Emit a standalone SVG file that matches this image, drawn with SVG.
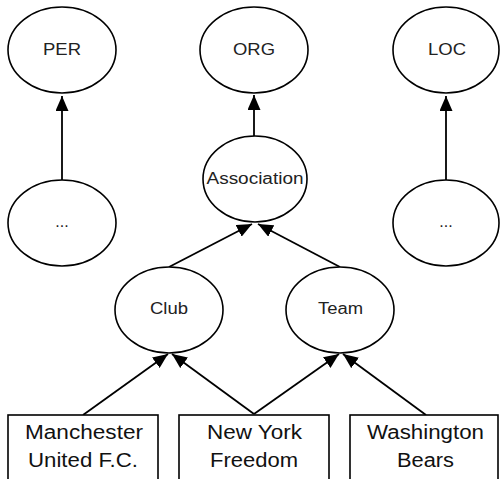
<svg xmlns="http://www.w3.org/2000/svg" width="500" height="479" viewBox="0 0 500 479">
<style>
.n{fill:#fff;stroke:#000;stroke-width:1.6}
.e{stroke:#000;stroke-width:1.8;fill:none}
.t{font-family:"Liberation Sans",Arial,sans-serif;font-size:16px;fill:#222;text-anchor:middle}
.b{font-family:"Liberation Sans",Arial,sans-serif;font-size:20px;fill:#111;text-anchor:middle}
</style>
<defs>
<marker id="ah" markerUnits="userSpaceOnUse" markerWidth="16" markerHeight="13" refX="15" refY="6.5" orient="auto">
<path d="M0,0 L15,6.5 L0,13 Z" fill="#000"/>
</marker>
</defs>
<rect width="500" height="479" fill="#fff"/>
<g id="connectors">
<line class="e" x1="62" y1="180" x2="62" y2="96" marker-end="url(#ah)"/>
<line class="e" x1="254" y1="136" x2="254" y2="95" marker-end="url(#ah)"/>
<line class="e" x1="446" y1="180" x2="446" y2="96" marker-end="url(#ah)"/>
<line class="e" x1="169" y1="267" x2="252" y2="224" marker-end="url(#ah)"/>
<line class="e" x1="340" y1="267" x2="258" y2="224" marker-end="url(#ah)"/>
<line class="e" x1="83" y1="415" x2="168" y2="354" marker-end="url(#ah)"/>
<line class="e" x1="254" y1="414" x2="172" y2="354" marker-end="url(#ah)"/>
<line class="e" x1="254" y1="414" x2="339" y2="354" marker-end="url(#ah)"/>
<line class="e" x1="426" y1="415" x2="343" y2="354" marker-end="url(#ah)"/>
</g>
<g id="per"><ellipse class="n" cx="62" cy="50" rx="54" ry="43"/><text class="t" x="62" y="55" textLength="38" lengthAdjust="spacingAndGlyphs">PER</text></g>
<g id="org"><ellipse class="n" cx="254" cy="50" rx="54" ry="43"/><text class="t" x="254" y="55" textLength="42" lengthAdjust="spacingAndGlyphs">ORG</text></g>
<g id="loc"><ellipse class="n" cx="446" cy="50" rx="53" ry="43"/><text class="t" x="447" y="55" textLength="38" lengthAdjust="spacingAndGlyphs">LOC</text></g>
<g id="per-more"><ellipse class="n" cx="62" cy="223" rx="54" ry="43"/><text class="t" x="62" y="227">...</text></g>
<g id="association"><ellipse class="n" cx="255" cy="179" rx="52" ry="43"/><text class="t" x="255" y="184" textLength="97" lengthAdjust="spacingAndGlyphs">Association</text></g>
<g id="loc-more"><ellipse class="n" cx="446" cy="223" rx="53" ry="43"/><text class="t" x="446" y="227">...</text></g>
<g id="club"><ellipse class="n" cx="169" cy="310" rx="54" ry="43"/><text class="t" x="169" y="314" textLength="38" lengthAdjust="spacingAndGlyphs">Club</text></g>
<g id="team"><ellipse class="n" cx="340" cy="310" rx="54" ry="43"/><text class="t" x="340.5" y="314" textLength="45" lengthAdjust="spacingAndGlyphs">Team</text></g>
<g id="manchester"><rect class="n" x="8" y="415" width="150" height="75"/><text class="b" x="84" y="439" textLength="118" lengthAdjust="spacingAndGlyphs">Manchester</text><text class="b" x="83" y="467" textLength="110" lengthAdjust="spacingAndGlyphs">United F.C.</text></g>
<g id="newyork"><rect class="n" x="179" y="415" width="150" height="75"/><text class="b" x="254.5" y="439" textLength="95" lengthAdjust="spacingAndGlyphs">New York</text><text class="b" x="254" y="467" textLength="88" lengthAdjust="spacingAndGlyphs">Freedom</text></g>
<g id="washington"><rect class="n" x="350" y="415" width="148" height="75"/><text class="b" x="425.5" y="439" textLength="117" lengthAdjust="spacingAndGlyphs">Washington</text><text class="b" x="425.5" y="467" textLength="57" lengthAdjust="spacingAndGlyphs">Bears</text></g>
</svg>
